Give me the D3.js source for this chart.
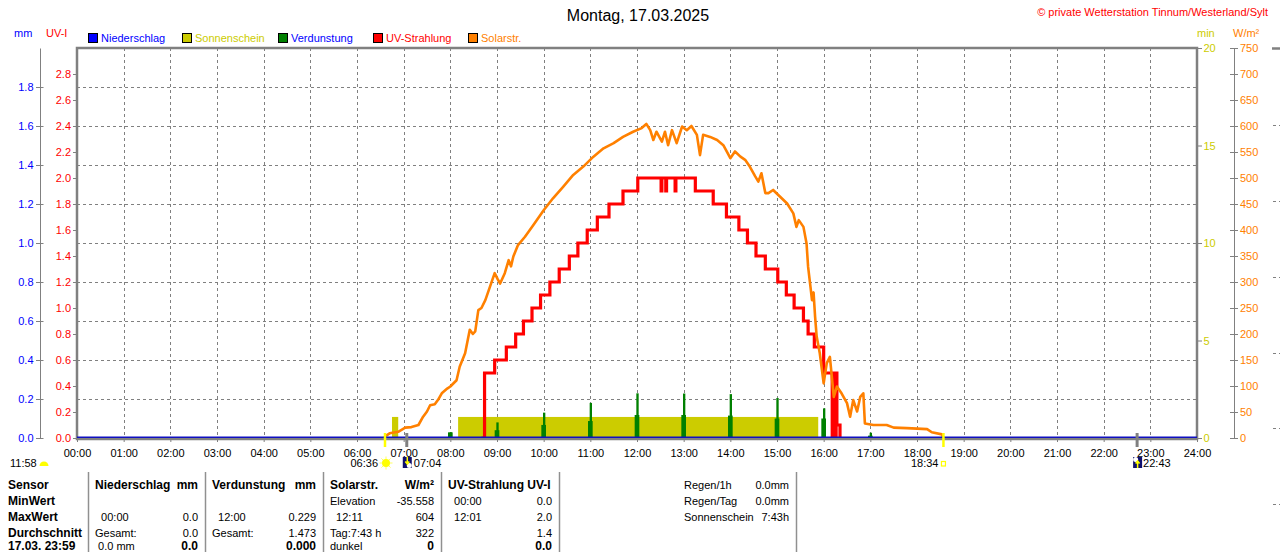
<!DOCTYPE html>
<html lang="de">
<head>
<meta charset="utf-8">
<title>Wetterstation Tinnum - Montag, 17.03.2025</title>
<script src="https://d3js.org/d3.v7.min.js"></script>
<style type="text/css">
  body { margin: 0; background: #fff; }
  svg text { font-family: "Liberation Sans", Arial, sans-serif; white-space: pre; }
  .grid line { stroke: #808080; stroke-width: 1; stroke-dasharray: 3,3; }
</style>
</head>
<body>
<script type="text/javascript">

// ---- data (times in minutes of the day) ----
var hourTicks = d3.range(0, 25).map(d => d * 60);

// Niederschlag (mm) - nothing all day
var rainMin = [0, 1440];
var rainVal = [0, 0];

// Sonnenschein blocks (min)
var sunFrom = ["06:45", "08:10"];
var sunTo   = ["06:53", "15:53"];
var sunVal  = [1.08, 1.08];

// Verdunstung (mm), one spike per hour
var evapHour = [8, 9, 10, 11, 12, 13, 14, 15, 16, 17];
var evapPeak = [0.029, 0.08, 0.13, 0.18, 0.229, 0.228, 0.225, 0.205, 0.152, 0.027];
var evapBase = [0.029, 0.04, 0.067, 0.087, 0.118, 0.118, 0.115, 0.10, 0.10, 0.012];

// UV-Strahlung (UV-I), step values
var uvMin = [520, 524, 537, 552, 564, 574, 585, 596, 608, 620, 633, 644, 656, 669, 684, 702, 721,
             751, 752, 757, 758, 769, 770, 795, 818, 835, 851, 862, 873, 885, 901, 912, 922, 934,
             940, 948, 960, 971, 972, 973, 974, 975, 976, 977, 981];
var uvVal = [0, 0.5, 0.6, 0.7, 0.8, 0.9, 1.0, 1.1, 1.2, 1.3, 1.4, 1.5, 1.6, 1.7, 1.8, 1.9, 2.0,
             1.9, 2.0, 1.9, 2.0, 1.9, 2.0, 1.9, 1.8, 1.7, 1.6, 1.5, 1.4, 1.3, 1.2, 1.1, 1.0, 0.9,
             0.8, 0.7, 0.5, 0, 0.5, 0, 0.5, 0, 0.5, 0.1, 0];

// Solarstrahlung (W/m2)
var solarMin = [395, 397, 402, 413, 422, 430, 439, 445, 450, 454, 460, 464, 469, 476, 480, 488, 492,
                499, 505, 509, 512, 516, 520, 525, 531, 537, 541, 544, 550, 555, 558, 561, 567, 576,
                587, 600, 612, 625, 638, 651, 664, 677, 690, 702, 715, 726, 732, 737, 741, 745, 752,
                756, 760, 765, 771, 778, 784, 790, 797, 801, 805, 814, 823, 831, 840, 846, 853, 859,
                865, 872, 876, 880, 885, 889, 895, 904, 913, 921, 925, 928, 934, 938, 940, 943, 945,
                947, 949, 951, 955, 960, 964, 968, 973, 977, 983, 990, 994, 998, 1003, 1007, 1011,
                1013, 1024, 1041, 1050, 1067, 1093, 1099, 1112, 1114];
var solarVal = [0, 4, 9, 12, 20, 21, 25, 41, 51, 63, 65, 73, 86, 95, 99, 111, 137,
                163, 208, 200, 205, 246, 250, 265, 291, 317, 305, 297, 317, 342, 330, 349, 371, 387,
                410, 438, 461, 483, 506, 522, 541, 557, 567, 579, 589, 596, 604, 592, 573, 589, 570,
                589, 563, 592, 567, 599, 592, 600, 583, 544, 583, 579, 573, 563, 538, 551, 541, 535,
                522, 503, 493, 509, 471, 471, 477, 464, 451, 432, 406, 419, 406, 374, 329, 291, 265,
                280, 233, 195, 163, 105, 144, 156, 79, 99, 86, 67, 41, 73, 51, 79, 86,
                28, 25, 25, 20, 19, 17, 11, 7, 0];

// tick labels
var mmTicks  = d3.range(0, 10).map(i => i * 0.2);
var uvTicks  = d3.range(0, 15).map(i => i * 0.2);
var minTicks = [0, 5, 10, 15, 20];
var wTicks   = d3.range(0, 16).map(i => i * 50);

// sun / moon times
var sunrise = "06:36", sunset = "18:34";
var moonset = "07:04", moonrise = "22:43";
var noon = "11:58";

// legend
var legNames  = ["Niederschlag", "Sonnenschein", "Verdunstung", "UV-Strahlung", "Solarstr."];
var legFill   = ["#0000ff", "#cccc00", "#008000", "#ff0000", "#ff8000"];
var legText   = ["#0000ff", "#cccc00", "#0000ff", "#ff0000", "#ff8000"];

// table
var tabRows = ["Sensor", "MinWert", "MaxWert", "Durchschnitt", "17.03. 23:59"];
var tabCols = [
  {l: 95,  r: 198, cells: [["Niederschlag", "mm"], ["", ""], ["  00:00", "0.0"], ["Gesamt:", "0.0"], [" 0.0 mm", "0.0"]]},
  {l: 212, r: 316, cells: [["Verdunstung", "mm"], ["", ""], ["  12:00", "0.229"], ["Gesamt:", "1.473"], ["", "0.000"]]},
  {l: 330, r: 434, cells: [["Solarstr.", "W/m²"], ["Elevation", "-35.558"], ["  12:11", "604"], ["Tag:7:43 h", "322"], ["dunkel", "0"]]},
  {l: 448, r: 552, cells: [["UV-Strahlung UV-I", ""], ["  00:00", "0.0"], ["  12:01", "2.0"], ["", "1.4"], ["", "0.0"]]}
];
var infoRows = [["Regen/1h", "0.0mm"], ["Regen/Tag", "0.0mm"], ["Sonnenschein", "7:43h"]];

// ---- setup ----
var w = 1280, h = 552;
var margin = {top: 48, right: 83, bottom: 114, left: 77};
var x0 = margin.left, x1 = w - margin.right, yTop = margin.top, yBot = h - margin.bottom;

function hm(s) { var p = s.split(":"); return +p[0] * 60 + +p[1]; }
function pad(n) { return (n < 10 ? "0" : "") + n; }

var svg = d3.select("body").append("svg")
            .attr("width", w).attr("height", h)
            .style("display", "block");

var xScale = d3.scaleLinear().domain([0, 1440]).range([x0, x1]);
var yMM  = d3.scaleLinear().domain([0, 2]).range([yBot, yTop]);
var yUV  = d3.scaleLinear().domain([0, 3]).range([yBot, yTop]);
var yMin = d3.scaleLinear().domain([0, 20]).range([yBot, yTop]);
var yW   = d3.scaleLinear().domain([0, 750]).range([yBot, yTop]);

// title + copyright
svg.append("text").attr("x", 638).attr("y", 21).attr("text-anchor", "middle")
   .attr("font-size", 16).attr("fill", "#000").text("Montag, 17.03.2025");
svg.append("text").attr("x", 1268).attr("y", 16).attr("text-anchor", "end")
   .attr("font-size", 11).attr("fill", "#ff0000").text("© private Wetterstation Tinnum/Westerland/Sylt");

// axis titles
svg.append("text").attr("x", 14).attr("y", 37).attr("font-size", 11).attr("fill", "#0000ff").text("mm");
svg.append("text").attr("x", 46).attr("y", 37).attr("font-size", 11).attr("fill", "#ff0000").text("UV-I");
svg.append("text").attr("x", 1197).attr("y", 37).attr("font-size", 11).attr("fill", "#cccc00").text("min");
svg.append("text").attr("x", 1233).attr("y", 37).attr("font-size", 11).attr("fill", "#ff8000").text("W/m²");

// legend
var legX = [88, 182, 278, 373, 468];
var leg = svg.append("g").selectAll("g").data(legNames).enter().append("g")
             .attr("transform", (d, i) => `translate(${legX[i]},33)`);
leg.append("rect").attr("x", 0.5).attr("y", 0.5).attr("width", 9).attr("height", 9)
   .attr("fill", (d, i) => legFill[i]).attr("stroke", "#000");
leg.append("text").attr("x", 13).attr("y", 9).attr("font-size", 11)
   .attr("fill", (d, i) => legText[i]).text(d => d);

// grid
var grid = svg.append("g").attr("class", "grid");
grid.selectAll("line.h").data(mmTicks.slice(1)).enter().append("line")
    .attr("x1", x0).attr("x2", x1)
    .attr("y1", d => Math.round(yMM(d)) + 0.5).attr("y2", d => Math.round(yMM(d)) + 0.5);
grid.selectAll("line.v").data(hourTicks.slice(1, 24)).enter().append("line")
    .attr("y1", yTop).attr("y2", yBot)
    .attr("x1", d => Math.round(xScale(d)) + 0.5).attr("x2", d => Math.round(xScale(d)) + 0.5);

// sunshine
svg.append("g").selectAll("rect").data(sunFrom).enter().append("rect")
   .attr("x", d => xScale(hm(d)))
   .attr("width", (d, i) => xScale(hm(sunTo[i])) - xScale(hm(d)))
   .attr("y", (d, i) => yMin(sunVal[i]))
   .attr("height", (d, i) => yBot - yMin(sunVal[i]))
   .attr("fill", "#cccc00");

// evaporation
var bw = xScale(6) - xScale(0), pw = xScale(3) - xScale(0);
var evap = svg.append("g").attr("fill", "#008000");
evap.selectAll("rect.b").data(evapHour).enter().append("rect")
    .attr("x", d => xScale(d * 60) - bw / 2).attr("width", bw)
    .attr("y", (d, i) => yMM(evapBase[i])).attr("height", (d, i) => yBot - yMM(evapBase[i]));
evap.selectAll("rect.p").data(evapHour).enter().append("rect")
    .attr("x", d => xScale(d * 60) - pw / 2 + 0.5).attr("width", pw)
    .attr("y", (d, i) => yMM(evapPeak[i])).attr("height", (d, i) => yBot - yMM(evapPeak[i]));

// UV line
var uvData = uvMin.map((m, i) => [m, uvVal[i]]);
svg.append("path").datum(uvData)
   .attr("fill", "none").attr("stroke", "#ff0000").attr("stroke-width", 3.2)
   .attr("d", d3.line().x(d => xScale(d[0])).y(d => yUV(d[1])).curve(d3.curveStepAfter));

// solar line
var solarData = solarMin.map((m, i) => [m, solarVal[i]]);
svg.append("path").datum(solarData)
   .attr("fill", "none").attr("stroke", "#ff8000").attr("stroke-width", 2.6)
   .attr("stroke-linejoin", "round")
   .attr("d", d3.line().x(d => xScale(d[0])).y(d => yW(d[1])));

// frame
svg.append("rect").attr("x", x0).attr("y", yTop).attr("width", x1 - x0).attr("height", yBot - yTop + 1)
   .attr("fill", "none").attr("stroke", "#808080").attr("stroke-width", 2.5);

// rain line (blue, at zero)
var rainData = rainMin.map((m, i) => [m, rainVal[i]]);
svg.append("path").datum(rainData)
   .attr("fill", "none").attr("stroke", "#1010c0").attr("stroke-width", 1.6)
   .attr("d", d3.line().x(d => xScale(d[0])).y(d => yMM(d[1]) - 0.8));

// ---- axes ----
var fontFam = "Liberation Sans, Arial, sans-serif";
function styleAxis(g, col) {
  g.attr("font-family", fontFam).attr("font-size", 11).attr("color", "#808080");
  g.selectAll("text").attr("fill", col);
}

var gMM = svg.append("g").attr("transform", "translate(40,0)")
   .call(d3.axisLeft(yMM).tickValues(mmTicks).tickFormat(d3.format(".1f"))
          .tickSize(4).tickSizeOuter(0).tickPadding(2.5));
styleAxis(gMM, "#0000ff");
gMM.selectAll(".tick line").attr("x2", 3.5).attr("x1", -4);

var gUV = svg.append("g").attr("transform", "translate(77,0)")
   .call(d3.axisLeft(yUV).tickValues(uvTicks).tickFormat(d3.format(".1f"))
          .tickSize(4).tickSizeOuter(0).tickPadding(2));
styleAxis(gUV, "#ff0000");
gUV.select(".domain").remove();

var gMin = svg.append("g").attr("transform", "translate(1197,0)")
   .call(d3.axisRight(yMin).tickValues(minTicks).tickFormat(d3.format("d"))
          .tickSize(5).tickSizeOuter(0).tickPadding(1.5));
styleAxis(gMin, "#cccc00");
gMin.select(".domain").remove();

var gW = svg.append("g").attr("transform", "translate(1234,0)")
   .call(d3.axisRight(yW).tickValues(wTicks).tickFormat(d3.format("d"))
          .tickSize(4).tickSizeOuter(0).tickPadding(2));
styleAxis(gW, "#ff8000");
gW.selectAll(".tick line").attr("x1", -4);

var gX = svg.append("g").attr("transform", `translate(0,${yBot})`)
   .call(d3.axisBottom(xScale).tickValues(hourTicks)
          .tickFormat(m => pad(m / 60) + ":00").tickSize(4).tickSizeOuter(0).tickPadding(7));
styleAxis(gX, "#000");
gX.select(".domain").remove();

// neighbouring chart edge at the far right
svg.append("line").attr("x1", 1272).attr("x2", 1280).attr("y1", 48.5).attr("y2", 48.5)
   .attr("stroke", "#808080").attr("stroke-width", 2.5);
svg.append("g").attr("class", "grid").selectAll("line").data([125, 201, 277, 353, 428, 504]).enter()
   .append("line").attr("x1", 1273).attr("x2", 1280).attr("y1", d => d + 0.5).attr("y2", d => d + 0.5);

// ---- sun & moon markers ----
var mk = svg.append("g");
function vtick(t, col, sw) {
  var xx = xScale(hm(t));
  mk.append("line").attr("x1", xx).attr("x2", xx).attr("y1", 433).attr("y2", 447)
    .attr("stroke", col).attr("stroke-width", sw);
  return xx;
}
function label(xx, anchor, t) {
  mk.append("text").attr("x", xx).attr("y", 467).attr("text-anchor", anchor)
    .attr("font-size", 11).attr("fill", "#000").text(t);
}
function moonIcon(xx, up) {
  var g = mk.append("g").attr("transform", `translate(${xx - 4},457)`);
  g.append("rect").attr("width", 9).attr("height", 11).attr("fill", "#10106e");
  g.append("circle").attr("cx", up ? 2.5 : 6.5).attr("cy", up ? 2.5 : 8.5).attr("r", 2.5).attr("fill", "#fff");
  g.append("path").attr("d", up ? "M4.5,11V4M2.5,6.5L4.5,4L6.5,6.5" : "M4.5,0V7M2.5,4.5L4.5,7L6.5,4.5")
   .attr("stroke", "#ffff00").attr("stroke-width", 1.5).attr("fill", "none");
}

var xr = vtick(sunrise, "#ffff00", 2.5);
label(xr - 7, "end", sunrise);
var sunG = mk.append("g").attr("transform", `translate(${xr + 1},463)`);
sunG.selectAll("line").data(d3.range(8)).enter().append("line")
    .attr("x1", 0).attr("y1", 0)
    .attr("x2", d => 6.5 * Math.cos(d * Math.PI / 4)).attr("y2", d => 6.5 * Math.sin(d * Math.PI / 4))
    .attr("stroke", "#ffff60").attr("stroke-width", 1);
sunG.append("circle").attr("r", 4).attr("fill", "#ffff00");

var xms = vtick(moonset, "#808080", 3);
moonIcon(xms, false);
label(xms + 7, "start", moonset);

var xs = vtick(sunset, "#ffff00", 2.5);
label(xs - 5, "end", sunset);
mk.append("rect").attr("x", xs - 2).attr("y", 461.5).attr("width", 4).attr("height", 4.5)
  .attr("fill", "none").attr("stroke", "#ffff00").attr("stroke-width", 1.2);

var xmr = vtick(moonrise, "#808080", 3);
moonIcon(xmr, true);
label(xmr + 6, "start", moonrise);

label(10, "start", noon);
mk.append("path").attr("d", d3.arc()({innerRadius: 0, outerRadius: 4.5, startAngle: -Math.PI / 2, endAngle: Math.PI / 2}))
  .attr("transform", "translate(44,466)").attr("fill", "#ffff00");

// ---- table ----
var tab = svg.append("g");
var rowY = [489, 505, 521, 537, 550];
tab.selectAll("text.r").data(tabRows).enter().append("text")
   .attr("x", 8).attr("y", (d, i) => rowY[i]).attr("font-size", 12).attr("font-weight", "bold")
   .attr("fill", "#000").text(d => d);

[88, 205, 323, 441, 559, 796].forEach(function(xx) {
  tab.append("line").attr("x1", xx + 0.5).attr("x2", xx + 0.5).attr("y1", 472).attr("y2", 552)
     .attr("stroke", "#909090").attr("stroke-width", 1.5);
});

tabCols.forEach(function(col) {
  col.cells.forEach(function(c, i) {
    var head = i === 0, last = i === tabRows.length - 1;
    tab.append("text").attr("x", col.l).attr("y", rowY[i])
       .attr("font-size", head ? 12 : 11).attr("font-weight", head ? "bold" : "normal")
       .attr("fill", "#000").text(c[0]);
    tab.append("text").attr("x", col.r).attr("y", rowY[i]).attr("text-anchor", "end")
       .attr("font-size", head || last ? 12 : 11).attr("font-weight", head || last ? "bold" : "normal")
       .attr("fill", "#000").text(c[1]);
  });
});

infoRows.forEach(function(r, i) {
  tab.append("text").attr("x", 684).attr("y", rowY[i]).attr("font-size", 11).attr("fill", "#000").text(r[0]);
  tab.append("text").attr("x", 789).attr("y", rowY[i]).attr("text-anchor", "end")
     .attr("font-size", 11).attr("fill", "#000").text(r[1]);
});

</script>
</body>
</html>
